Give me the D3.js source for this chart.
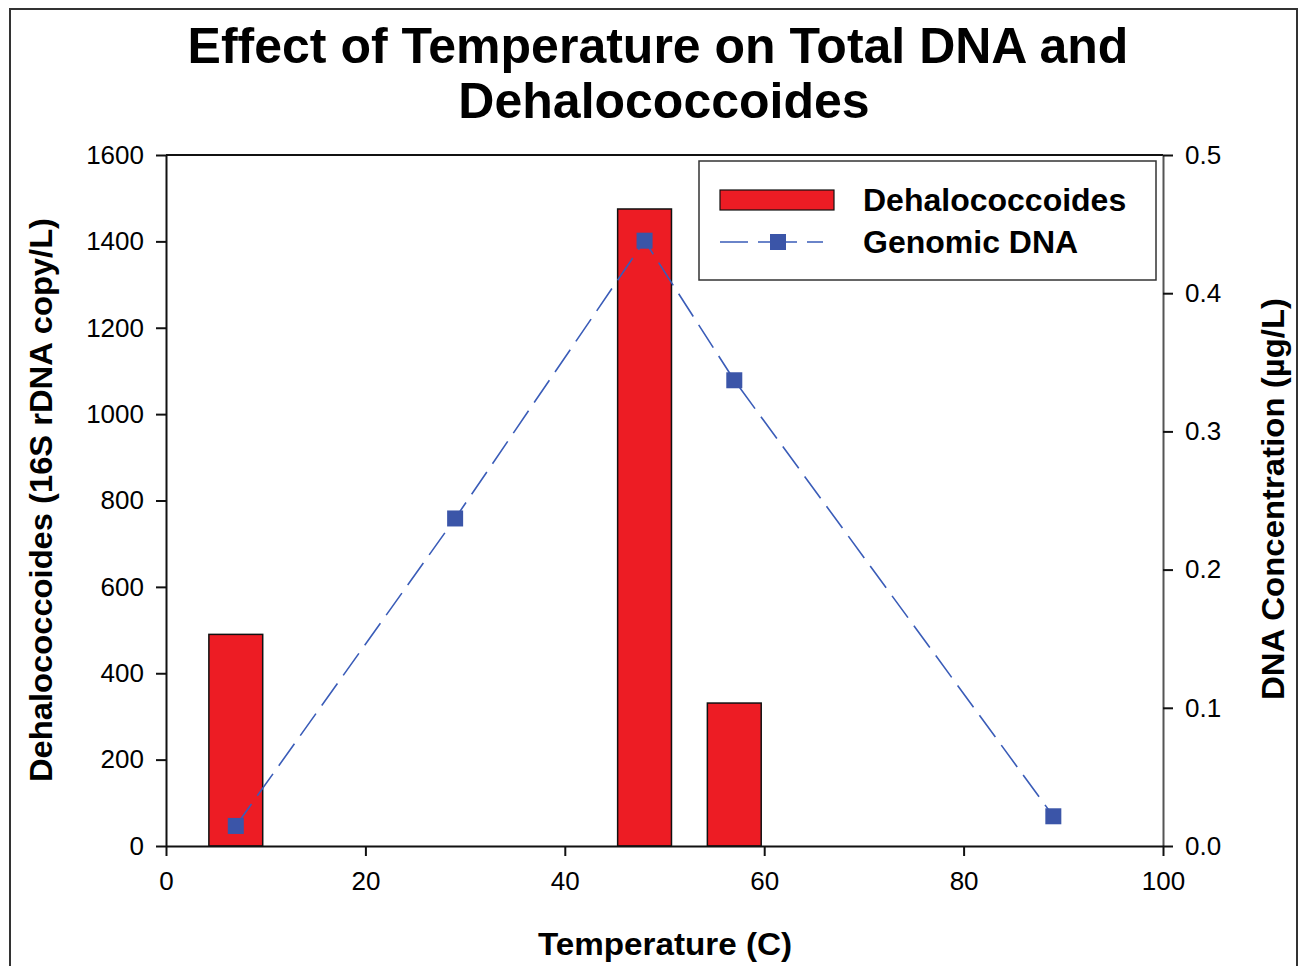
<!DOCTYPE html>
<html>
<head>
<meta charset="utf-8">
<script src="https://cdn.jsdelivr.net/npm/d3@7"></script>
<style>
  body { margin: 0; background: #fff; }
  svg { display: block; font-family: "Liberation Sans", Arial, sans-serif; }
</style>
</head>
<body>
<div id="chart"></div>
<script>
// data
const barTemps = [7, 48, 57];
const barValues = [490, 1475, 331];
const dnaTemps = [7, 29, 48, 57, 89];
const dnaValues = [0.0145, 0.237, 0.438, 0.337, 0.0215];
const leftTicks = [0, 200, 400, 600, 800, 1000, 1200, 1400, 1600];
const rightTicks = [0.0, 0.1, 0.2, 0.3, 0.4, 0.5];
const xTicks = [0, 20, 40, 60, 80, 100];
const barWidth = 5.4;

const W = 1301, H = 966;
const svg = d3.select("#chart").append("svg")
    .attr("width", W)
    .attr("height", H);

// outer frame
svg.append("rect")
    .attr("x", 10).attr("y", 9)
    .attr("width", 1287).attr("height", H)
    .attr("fill", "none")
    .attr("stroke", "#333")
    .attr("stroke-width", 2);

const x = d3.scaleLinear().domain([0, 100]).range([166, 1163]);
const yL = d3.scaleLinear().domain([0, 1600]).range([846, 155]);
const yR = d3.scaleLinear().domain([0, 0.5]).range([846, 155]);

// title
const title = svg.append("text")
    .attr("text-anchor", "middle")
    .attr("font-weight", "bold")
    .attr("font-size", 50)
    .attr("fill", "#000");
title.append("tspan").attr("x", 658).attr("y", 63).text("Effect of Temperature on Total DNA and");
title.append("tspan").attr("x", 664).attr("y", 118).text("Dehalococcoides");

// bars
svg.selectAll("rect.bar")
    .data(barTemps)
    .enter()
    .append("rect")
    .attr("class", "bar")
    .attr("x", d => x(d - barWidth / 2))
    .attr("y", (d, i) => yL(barValues[i]))
    .attr("width", x(barWidth) - x(0))
    .attr("height", (d, i) => yL(0) - yL(barValues[i]))
    .attr("fill", "#ed1c24")
    .attr("stroke", "#111")
    .attr("stroke-width", 1.5);

// top frame line
svg.append("line")
    .attr("x1", x(0)).attr("x2", x(100))
    .attr("y1", yL(1600)).attr("y2", yL(1600))
    .attr("stroke", "#111").attr("stroke-width", 2);

// axes
const tickFont = g => g.selectAll("text")
    .attr("font-size", 26)
    .attr("font-family", "Liberation Sans, Arial, sans-serif")
    .attr("fill", "#000");

const axisStyle = g => {
    g.select(".domain").attr("stroke", "#111").attr("stroke-width", 2);
    g.selectAll(".tick line").attr("stroke", "#111").attr("stroke-width", 2);
};

svg.append("g")
    .attr("transform", `translate(${x(0)},0)`)
    .call(d3.axisLeft(yL).tickValues(leftTicks).tickSize(10).tickSizeOuter(0).tickPadding(12)
        .tickFormat(d3.format("d")))
    .call(axisStyle)
    .call(tickFont);

svg.append("g")
    .attr("transform", `translate(${x(100)},0)`)
    .call(d3.axisRight(yR).tickValues(rightTicks).tickSize(10).tickSizeOuter(0).tickPadding(12)
        .tickFormat(d3.format(".1f")))
    .call(axisStyle)
    .call(g => g.select(".domain").attr("stroke", "#555"))
    .call(tickFont);

svg.append("g")
    .attr("transform", `translate(0,${yL(0)})`)
    .call(d3.axisBottom(x).tickValues(xTicks).tickSize(10).tickSizeOuter(0).tickPadding(16))
    .call(axisStyle)
    .call(tickFont);

// DNA line
const line = d3.line()
    .x((d, i) => x(dnaTemps[i]))
    .y(d => yR(d));

svg.append("path")
    .datum(dnaValues)
    .attr("d", line)
    .attr("fill", "none")
    .attr("stroke", "#3a5cb8")
    .attr("stroke-width", 1.6)
    .attr("stroke-dasharray", "27,10");

svg.selectAll("rect.marker")
    .data(dnaValues)
    .enter()
    .append("rect")
    .attr("class", "marker")
    .attr("x", (d, i) => x(dnaTemps[i]) - 8)
    .attr("y", d => yR(d) - 8)
    .attr("width", 16)
    .attr("height", 16)
    .attr("fill", "#3b55a8");

// axis titles
svg.append("text")
    .attr("transform", "translate(52,500) rotate(-90)")
    .attr("text-anchor", "middle")
    .attr("font-weight", "bold")
    .attr("font-size", 32)
    .attr("textLength", 564)
    .attr("lengthAdjust", "spacingAndGlyphs")
    .text("Dehalococcoides (16S rDNA copy/L)");

svg.append("text")
    .attr("transform", "translate(1284,499) rotate(-90)")
    .attr("text-anchor", "middle")
    .attr("font-weight", "bold")
    .attr("font-size", 32)
    .attr("textLength", 402)
    .attr("lengthAdjust", "spacingAndGlyphs")
    .text("DNA Concentration (\u00b5g/L)");

svg.append("text")
    .attr("x", 665)
    .attr("y", 955)
    .attr("text-anchor", "middle")
    .attr("font-weight", "bold")
    .attr("font-size", 32)
    .attr("textLength", 254)
    .attr("lengthAdjust", "spacingAndGlyphs")
    .text("Temperature (C)");

// legend
const legend = svg.append("g");
legend.append("rect")
    .attr("x", 699).attr("y", 161)
    .attr("width", 457).attr("height", 119)
    .attr("fill", "#fff")
    .attr("stroke", "#333")
    .attr("stroke-width", 1.5);

legend.append("rect")
    .attr("x", 720).attr("y", 190)
    .attr("width", 114).attr("height", 20)
    .attr("fill", "#ed1c24")
    .attr("stroke", "#111")
    .attr("stroke-width", 1.2);

legend.append("line")
    .attr("x1", 720).attr("x2", 823)
    .attr("y1", 242).attr("y2", 242)
    .attr("stroke", "#3a5cb8")
    .attr("stroke-width", 1.6)
    .attr("stroke-dasharray", "28,10,39,10");

legend.append("rect")
    .attr("x", 770).attr("y", 234)
    .attr("width", 16).attr("height", 16)
    .attr("fill", "#3b55a8");

legend.selectAll("text.leg")
    .data(["Dehalococcoides", "Genomic DNA"])
    .enter()
    .append("text")
    .attr("class", "leg")
    .attr("x", 863)
    .attr("y", (d, i) => 211 + i * 42)
    .attr("font-weight", "bold")
    .attr("font-size", 32)
    .text(d => d);
</script>
</body>
</html>
